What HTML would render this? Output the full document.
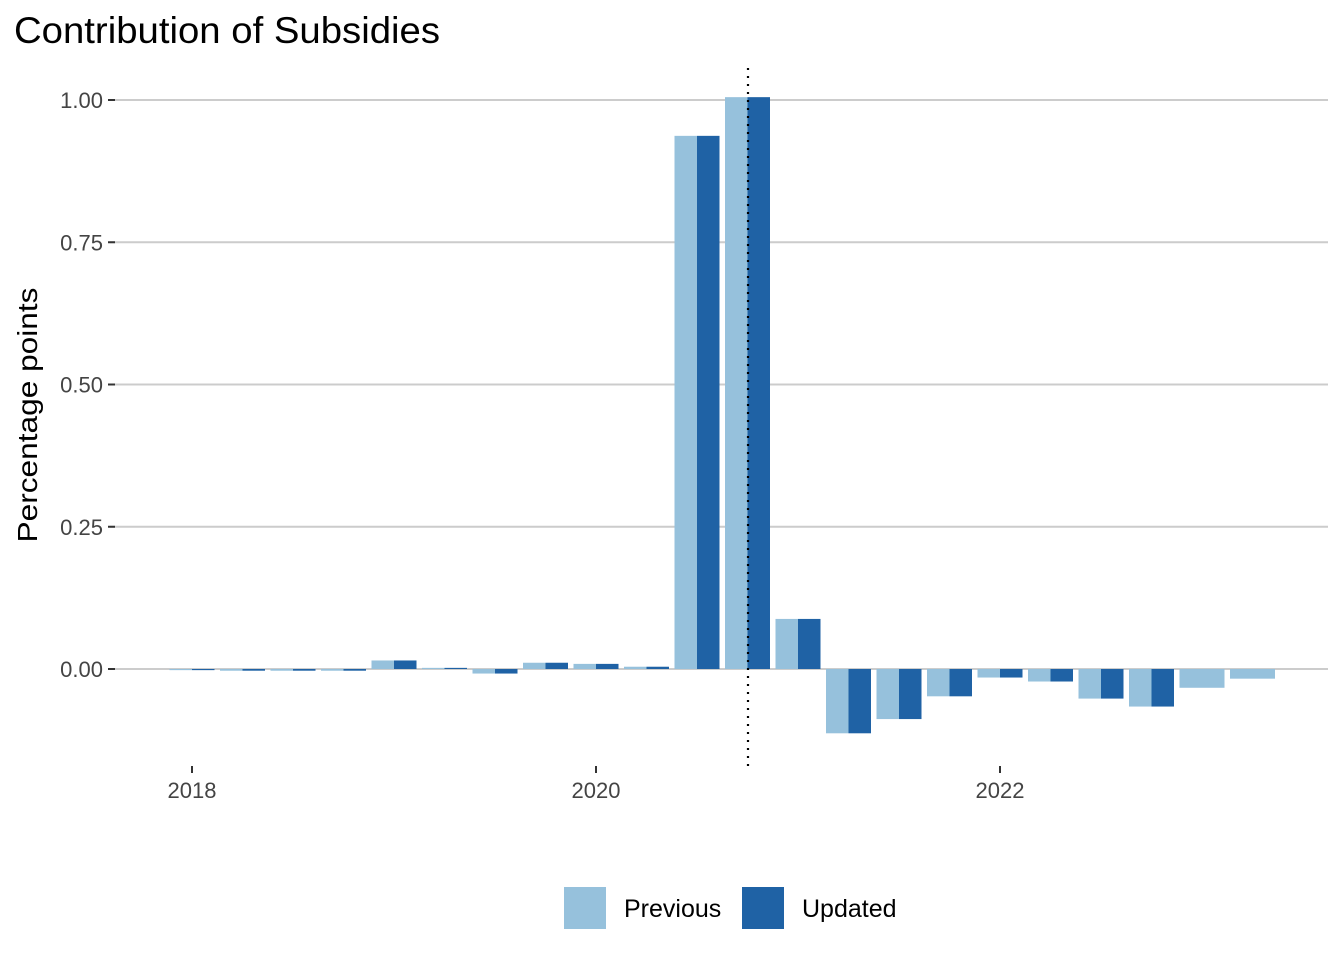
<!DOCTYPE html>
<html><head><meta charset="utf-8"><style>
body{margin:0;background:#fff;font-family:"Liberation Sans",Arial,sans-serif;}
</style></head><body>
<svg width="1344" height="960" viewBox="0 0 1344 960">
<text x="14" y="43" font-size="37" textLength="426" lengthAdjust="spacingAndGlyphs" fill="#000">Contribution of Subsidies</text>
<text transform="translate(37,415) rotate(-90)" text-anchor="middle" font-size="28" textLength="255" lengthAdjust="spacingAndGlyphs" fill="#000">Percentage points</text>
<g id="grid"></g><g id="bars"></g><g id="axes"></g>
<line x1="748" x2="748" y1="68" y2="766" stroke="#000" stroke-width="2.2" stroke-dasharray="2,6"/>
<rect x="564" y="887" width="42" height="42" fill="#96c1dc"/>
<text x="624" y="917" font-size="25" fill="#000">Previous</text>
<rect x="742" y="887" width="42" height="42" fill="#1f62a5"/>
<text x="802" y="917" font-size="25" fill="#000">Updated</text>
</svg>
<script>
const quarters=["2018Q1","2018Q2","2018Q3","2018Q4","2019Q1","2019Q2","2019Q3","2019Q4","2020Q1","2020Q2","2020Q3","2020Q4","2021Q1","2021Q2","2021Q3","2021Q4","2022Q1","2022Q2","2022Q3","2022Q4","2023Q1","2023Q2"];
const previous=[-0.002,-0.003,-0.003,-0.003,0.015,0.002,-0.008,0.011,0.009,0.004,0.937,1.005,0.088,-0.113,-0.088,-0.048,-0.015,-0.022,-0.052,-0.066,-0.033,-0.017];
const updated=[-0.002,-0.003,-0.003,-0.003,0.015,0.002,-0.008,0.011,0.009,0.004,0.937,1.005,0.088,-0.113,-0.088,-0.048,-0.015,-0.022,-0.052,-0.066,null,null];
const yTicks=[0,0.25,0.5,0.75,1.0];
const yTickLabels=["0.00","0.25","0.50","0.75","1.00"];
const xTicks=[2018,2020,2022];
const NS="http://www.w3.org/2000/svg";
function y(v){return 669-v*569;}
function xYear(t){return 192+(t-2018)*202;}
function xQ(i){return 192+i*50.5;}
function mk(tag,attrs,parent){const e=document.createElementNS(NS,tag);for(const k in attrs)e.setAttribute(k,attrs[k]);document.getElementById(parent).appendChild(e);return e;}
yTicks.forEach((t,i)=>{
 let g=mk('line',{x1:110,x2:1328,y1:y(t),y2:y(t),stroke:'#cccccc','stroke-width':2},'grid');
 
 
 let tk=mk('line',{x1:108,x2:115,y1:y(t),y2:y(t),stroke:'#333','stroke-width':2},'axes');
 
 
 let tx=mk('text',{x:103,y:y(t)+8,'text-anchor':'end','font-size':22,fill:'#444'},'axes');
 tx.textContent=yTickLabels[i];
 
 
});
xTicks.forEach(t=>{
 let tk=mk('line',{x1:xYear(t),x2:xYear(t),y1:766,y2:773,stroke:'#333','stroke-width':2},'axes');
 
 
 let tx=mk('text',{x:xYear(t),y:798,'text-anchor':'middle','font-size':22,fill:'#444'},'axes');
 tx.textContent=t;
 
 
});
const bw=22.5;
quarters.forEach((q,i)=>{
 const c=xQ(i);
 const both=updated[i]!==null;
 const pv=previous[i];
 let r=mk('rect',{x:c-bw,y:Math.min(y(pv),y(0)),width:both?bw:bw*2,height:Math.abs(y(pv)-y(0)),fill:'#96c1dc'},'bars');
 
 
 if(both){const uv=updated[i];
 let u=mk('rect',{x:c,y:Math.min(y(uv),y(0)),width:bw,height:Math.abs(y(uv)-y(0)),fill:'#1f62a5'},'bars');
 
 }
});
</script>
</body></html>
